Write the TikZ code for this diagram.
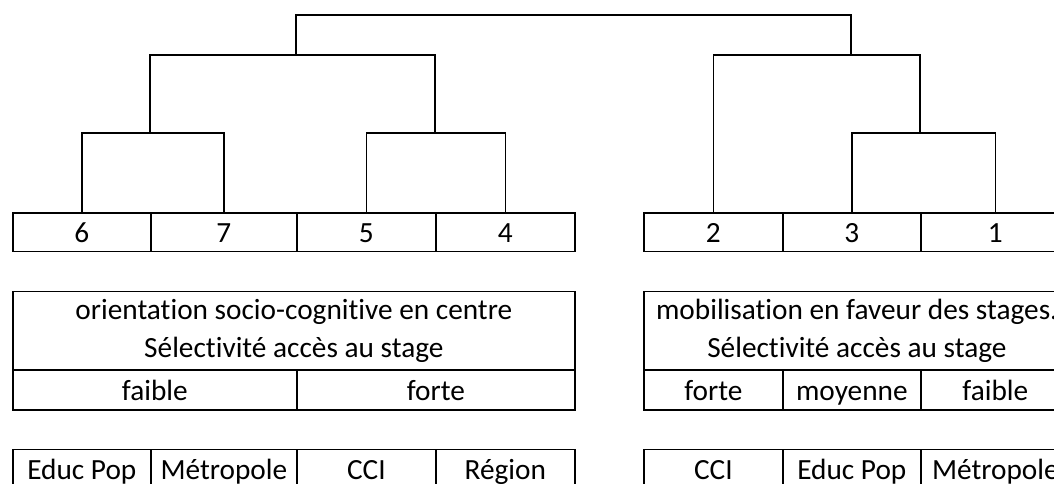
\documentclass[tikz,border=0pt]{standalone}
\usepackage{fontspec}
\setmainfont{Carlito}[Ligatures=NoCommon]
\begin{document}
\begin{tikzpicture}[x=1pt,y=-1pt,line width=1.7pt,
    cell/.style={draw,anchor=north west,inner sep=0pt,minimum height=38.7pt,
      text height=25pt,text depth=4pt,font=\fontsize{29.3}{37.6}\selectfont},
    head/.style={draw,anchor=north west,inner sep=0pt,minimum height=78.3pt,
      align=center,font=\fontsize{29.3}{37.6}\selectfont}]
  \useasboundingbox (0,0) rectangle (1054,483);
  \clip (0,0) rectangle (1054,483);
  % classes
  \foreach \n/\x/\w in {6/12/138,7/150/146,5/296/139,4/435/139,2/643/139,3/782/138,1/920/149}
    \node[cell,minimum width=\w] (leaf\n) at (\x,212) {\n};
  % dendrogramme
  \coordinate (j67) at (150,133);
  \coordinate (j54) at (435,133);
  \coordinate (j31) at (920,133);
  \coordinate (jL) at (296,55);
  \coordinate (jR) at (851,55);
  \coordinate (jT) at (573,15);
  \draw (leaf6.north) |- (j67) -| (leaf7.north);
  \draw (leaf5.north) |- (j54) -| (leaf4.north);
  \draw (leaf3.north) |- (j31) -| (leaf1.north);
  \draw (j67) |- (jL) -| (j54);
  \draw (leaf2.north) |- (jR) -| (j31);
  \draw (jL) |- (jT) -| (jR);
  % orientation / selectivite
  \node[head,minimum width=562] (headL) at (12,290.7)
    {orientation socio-cognitive en centre\\Sélectivité accès au stage};
  \node[cell,minimum width=284,minimum height=40] (selL1) at (12,369) {faible};
  \node[cell,minimum width=278,minimum height=40] (selL2) at (296,369) {forte};
  \node[head,minimum width=426] (headR) at (643,290.7)
    {mobilisation en faveur des stages.\\Sélectivité accès au stage};
  \foreach \t/\x/\w [count=\i] in {forte/643/139,moyenne/782/138,faible/920/149}
    \node[cell,minimum width=\w,minimum height=40] (selR\i) at (\x,369) {\t};
  % financeurs
  \foreach \t/\x/\w [count=\i] in {Educ Pop/12/138,Métropole/150/146,CCI/296/139,Région/435/139}
    \node[cell,minimum width=\w] (finL\i) at (\x,448.7) {\t};
  \foreach \t/\x/\w [count=\i] in {CCI/643/139,Educ Pop/782/138,Métropole/920/149}
    \node[cell,minimum width=\w] (finR\i) at (\x,448.7) {\t};
\end{tikzpicture}
\end{document}
